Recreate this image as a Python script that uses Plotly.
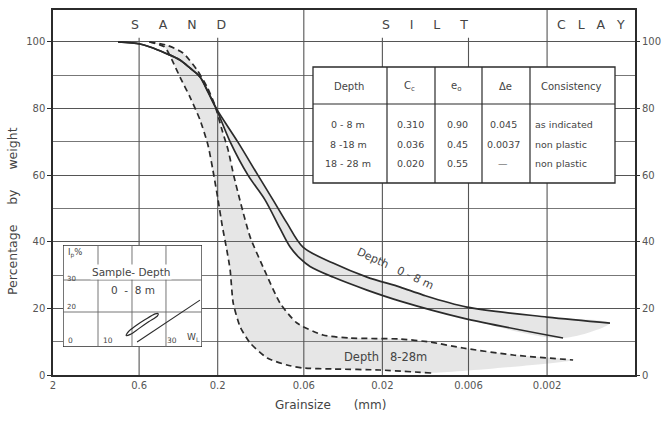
import math
import plotly.graph_objects as go

# ---------------- data ----------------
grain_ticks = [2, 0.6, 0.2, 0.06, 0.02, 0.006, 0.002]
grain_tick_labels = ["2", "0.6", "0.2", "0.06", "0.02", "0.006", "0.002"]
grain_min = 0.000585
pct_ticks = [0, 20, 40, 60, 80, 100]
pct_minor = [10, 30, 50, 70, 90]
pct_top = 109.6
fraction_bounds = [0.06, 0.002]          # sand/silt, silt/clay
fraction_names = ["SAND", "SILT", "CLAY"]

# Depth 0-8 m band (solid lines)
d_08_upper = [0.806, 0.593, 0.515, 0.418, 0.339, 0.295, 0.256, 0.229, 0.205, 0.151, 0.114,
              0.0923, 0.0759, 0.0607, 0.0399, 0.0248, 0.0156, 0.0113, 0.00613, 0.0020, 0.00083]
p_08_upper = [100, 99.4, 98.5, 96.7, 94.6, 92.2, 89.5, 85.0, 80.2, 70.0, 60.0,
              52.6, 45.6, 38.4, 33.6, 29.4, 26.4, 24.0, 20.4, 17.4, 15.6]
d_08_lower = [0.806, 0.593, 0.515, 0.418, 0.339, 0.295, 0.256, 0.229, 0.205, 0.168, 0.131,
              0.1032, 0.0837, 0.0728, 0.0633, 0.055, 0.0399, 0.0248, 0.0156, 0.00648, 0.0016]
p_08_lower = [100, 99.4, 98.5, 96.7, 94.6, 92.2, 89.5, 85.0, 80.2, 70.0, 60.0,
              52.6, 44.0, 38.5, 35.0, 32.6, 29.4, 25.5, 22.2, 17.1, 11.1]

# Depth 8-28 m band (dashed lines)
d_828_fine = [0.52, 0.406, 0.325, 0.267, 0.232, 0.208, 0.188, 0.173, 0.160, 0.145, 0.127,
              0.104, 0.0837, 0.0660, 0.0459, 0.0315, 0.0156, 0.0103, 0.00648, 0.00322, 0.00139]
p_828_fine = [100, 99.0, 96.7, 91.6, 86.5, 81.0, 73.5, 67.6, 60.0, 51.6, 41.4,
              31.5, 21.6, 15.6, 12.0, 11.1, 10.8, 9.9, 8.1, 6.0, 4.5]
d_828_coarse = [0.52, 0.42, 0.379, 0.339, 0.295, 0.256, 0.229, 0.214, 0.199, 0.188, 0.176,
                0.168, 0.161, 0.146, 0.127, 0.100, 0.0759, 0.0607, 0.0399, 0.0207, 0.0101]
p_828_coarse = [100, 98.5, 94.6, 89.5, 83.5, 76.6, 69.0, 61.6, 52.6, 45.0, 37.5,
                31.5, 21.6, 14.4, 9.6, 5.1, 3.0, 2.1, 1.8, 1.5, 0.6]

# table
table_header = ["Depth", "C<sub>c</sub>", "e<sub>o</sub>", "Δe", "Consistency"]
table_depth = ["0 - 8 m", "8 -18 m", "18 - 28 m"]
table_cc = ["0.310", "0.036", "0.020"]
table_e0 = ["0.90", "0.45", "0.55"]
table_de = ["0.045", "0.0037", "—"]
table_cons = ["as indicated", "non plastic", "non plastic"]

# inset: plasticity (Ip vs WL), sample depth 0-8 m
inset_x_range = [-0.3, 40.6]
inset_y_range = [9.06, 40.94]
inset_grid_x = [10, 20, 30]
inset_grid_y = [20, 30]
loop_wl = [18.3, 19.0, 21.0, 24.0, 26.8, 27.7, 27.5, 25.0, 22.0, 19.5, 18.3]
loop_ip = [12.6, 13.9, 15.6, 17.7, 19.4, 19.5, 18.8, 17.0, 14.8, 13.0, 12.6]
aline_wl = [21.5, 40.0]
aline_ip = [10.6, 23.7]

# ---------------- figure ----------------
INK = "#2b2b2b"
GRID = "#555555"
TXT = "#555555"
SHADE = "rgba(140,140,140,0.22)"
NB = "\u00a0"

fig = go.Figure()

# shaded bands
fig.add_trace(go.Scatter(x=d_08_upper + d_08_lower[::-1], y=p_08_upper + p_08_lower[::-1],
                         fill="toself", fillcolor=SHADE, line=dict(width=0, shape="spline", smoothing=0.9),
                         mode="lines", hoverinfo="skip"))
fig.add_trace(go.Scatter(x=d_828_coarse + d_828_fine[::-1], y=p_828_coarse + p_828_fine[::-1],
                         fill="toself", fillcolor=SHADE, line=dict(width=0, shape="spline", smoothing=0.6),
                         mode="lines", hoverinfo="skip"))

# vertical grid lines (0..100) + header dividers
gx, gy = [], []
for v in grain_ticks[1:]:
    top = pct_top if v in fraction_bounds else 101.3
    gx += [v, v, None]
    gy += [0, top, None]
fig.add_trace(go.Scatter(x=gx, y=gy, mode="lines", line=dict(color=GRID, width=1.1),
                         hoverinfo="skip"))

# curves
for d, p, dash, sm in [(d_08_upper, p_08_upper, "solid", 0.9), (d_08_lower, p_08_lower, "solid", 0.9),
                       (d_828_fine, p_828_fine, "6px,4px", 0.6), (d_828_coarse, p_828_coarse, "6px,4px", 0.6)]:
    fig.add_trace(go.Scatter(x=d, y=p, mode="lines",
                             line=dict(color=INK, width=1.7, dash=dash, shape="spline", smoothing=sm),
                             hoverinfo="skip"))

# dummy trace for right-hand axis
fig.add_trace(go.Scatter(x=[None], y=[None], yaxis="y3", mode="lines", hoverinfo="skip"))

# inset
x0, x1 = inset_x_range
y0, y1 = inset_y_range
fig.add_trace(go.Scatter(x=[x0, x1, x1, x0, x0], y=[y0, y0, y1, y1, y0], xaxis="x2", yaxis="y2",
                         fill="toself", fillcolor="white", mode="lines",
                         line=dict(color=INK, width=1.3), hoverinfo="skip"))
ix, iy = [], []
for v in inset_grid_x:
    ix += [v, v, None]
    iy += [y0, y1, None]
for v in inset_grid_y:
    ix += [x0, x1, None]
    iy += [v, v, None]
fig.add_trace(go.Scatter(x=ix, y=iy, xaxis="x2", yaxis="y2", mode="lines",
                         line=dict(color="#666", width=0.9), hoverinfo="skip"))
fig.add_trace(go.Scatter(x=loop_wl, y=loop_ip, xaxis="x2", yaxis="y2", mode="lines",
                         line=dict(color=INK, width=1.2, shape="spline", smoothing=0.8), hoverinfo="skip"))
fig.add_trace(go.Scatter(x=aline_wl, y=aline_ip, xaxis="x2", yaxis="y2", mode="lines",
                         line=dict(color=INK, width=1.1), hoverinfo="skip"))

# ---------------- annotations ----------------
ann = []
lx = math.log10
edges = [lx(grain_ticks[0])] + [lx(b) for b in fraction_bounds] + [lx(grain_min)]
for i, name in enumerate(fraction_names):
    gap = 5 if name != "CLAY" else 3
    ann.append(dict(x=(edges[i] + edges[i + 1]) / 2, y=105.1, xref="x", yref="y",
                    xanchor="center", yanchor="middle",
                    text=(NB * gap).join(name), showarrow=False,
                    font=dict(size=12.5, color="#444")))


def px(x):
    return (x - 53) / 582.0


def py(y):
    return (375 - y) / 365.0


def pa(x, y, t, size=9.5, anchor="center", angle=0):
    ann.append(dict(x=px(x), y=py(y), xref="paper", yref="paper", text=t, showarrow=False,
                    xanchor=anchor, yanchor="middle", textangle=angle,
                    font=dict(size=size, color="#444")))


tx = [313, 387, 435, 482, 530, 615]
ty = [67, 104, 183]
shapes = [dict(type="rect", xref="paper", yref="paper", x0=px(tx[0]), x1=px(tx[-1]),
               y0=py(ty[2]), y1=py(ty[0]), fillcolor="white", line=dict(color=INK, width=1.3),
               layer="above")]
for xv in tx[1:-1]:
    shapes.append(dict(type="line", xref="paper", yref="paper", x0=px(xv), x1=px(xv),
                       y0=py(ty[2]), y1=py(ty[0]), line=dict(color=INK, width=1.2), layer="above"))
shapes.append(dict(type="line", xref="paper", yref="paper", x0=px(tx[0]), x1=px(tx[-1]),
                   y0=py(ty[1]), y1=py(ty[1]), line=dict(color=INK, width=1.2), layer="above"))

hdr_cx = [349, 409, 456, 505, 571]
for t, c in zip(table_header, hdr_cx):
    pa(c, 86, t, 10)
row_y = [124, 144, 163]
for i in range(3):
    pa(348, row_y[i], table_depth[i])
    pa(410, row_y[i], table_cc[i])
    pa(457, row_y[i], table_e0[i])
    pa(503, row_y[i], table_de[i])
    pa(533, row_y[i], table_cons[i], anchor="left")

# curve labels
pa(395, 268, "Depth" + NB * 3 + "0 - 8 m", 11, angle=25)
pa(385, 357, "Depth" + NB * 3 + "8-28m", 11.5)

# axis titles
pa(330, 405, "Grainsize" + NB * 6 + "(mm)", 12)
pa(12, 211, "Percentage" + NB * 5 + "by" + NB * 5 + "weight", 12.5, angle=-90)


# inset labels
def ia(x, y, t, size=8, anchor="left", bg=None):
    d = dict(x=x, y=y, xref="x2", yref="y2", text=t, showarrow=False, xanchor=anchor,
             yanchor="middle", font=dict(size=size, color="#444"))
    if bg:
        d["bgcolor"] = bg
    ann.append(d)


ia(0.6, 38.3, "I<sub>p</sub>%", 8.5)
ia(0.3, 30.4, "30", 7)
ia(0.3, 21.7, "20", 7)
ia(0.6, 11.2, "0", 7.5)
ia(11.0, 11.2, "10", 7.5)
ia(29.8, 11.2, "30", 7.5)
ia(35.5, 12.0, "W<sub>L</sub>", 9)
ia(19.6, 32.6, "Sample- Depth", 10.5, "center", "white")
ia(20.3, 26.9, "0" + NB * 2 + "-" + NB * 2 + "8 m", 10.5, "center")

fig.update_layout(
    width=662, height=421,
    margin=dict(l=53, r=27, t=10, b=46),
    paper_bgcolor="white", plot_bgcolor="white",
    showlegend=False,
    font=dict(family="DejaVu Sans", size=10, color=TXT),
    shapes=shapes, annotations=ann,
    xaxis=dict(type="log", range=[math.log10(grain_ticks[0]), math.log10(grain_min)],
               tickvals=grain_ticks, ticktext=grain_tick_labels, showgrid=False, zeroline=False,
               showline=True, mirror=True, linecolor=INK, linewidth=1.5, ticks="",
               tickfont=dict(size=10, color=TXT), automargin=False),
    yaxis=dict(range=[0, pct_top], tickvals=pct_ticks, showgrid=True, gridcolor=GRID, gridwidth=1.1,
               minor=dict(tickvals=pct_minor, showgrid=True, gridcolor="#777", gridwidth=0.9),
               zeroline=False, showline=True, mirror=True, linecolor=INK, linewidth=1.5,
               ticks="outside", ticklen=4, tickcolor=INK, tickfont=dict(size=10, color=TXT),
               automargin=False),
    yaxis3=dict(overlaying="y", side="right", range=[0, pct_top], tickvals=pct_ticks,
                showgrid=False, zeroline=False, showline=False, ticks="outside", ticklen=4,
                tickcolor=INK, tickfont=dict(size=10, color=TXT), automargin=False),
    xaxis2=dict(domain=[px(63), px(202)], anchor="y2", range=inset_x_range, visible=False),
    yaxis2=dict(domain=[py(347), py(245)], anchor="x2", range=inset_y_range, visible=False),
)

fig.write_html("out.html", config={"displayModeBar": False},
               post_script="document.body.style.margin='0px';document.body.style.overflow='hidden';")
